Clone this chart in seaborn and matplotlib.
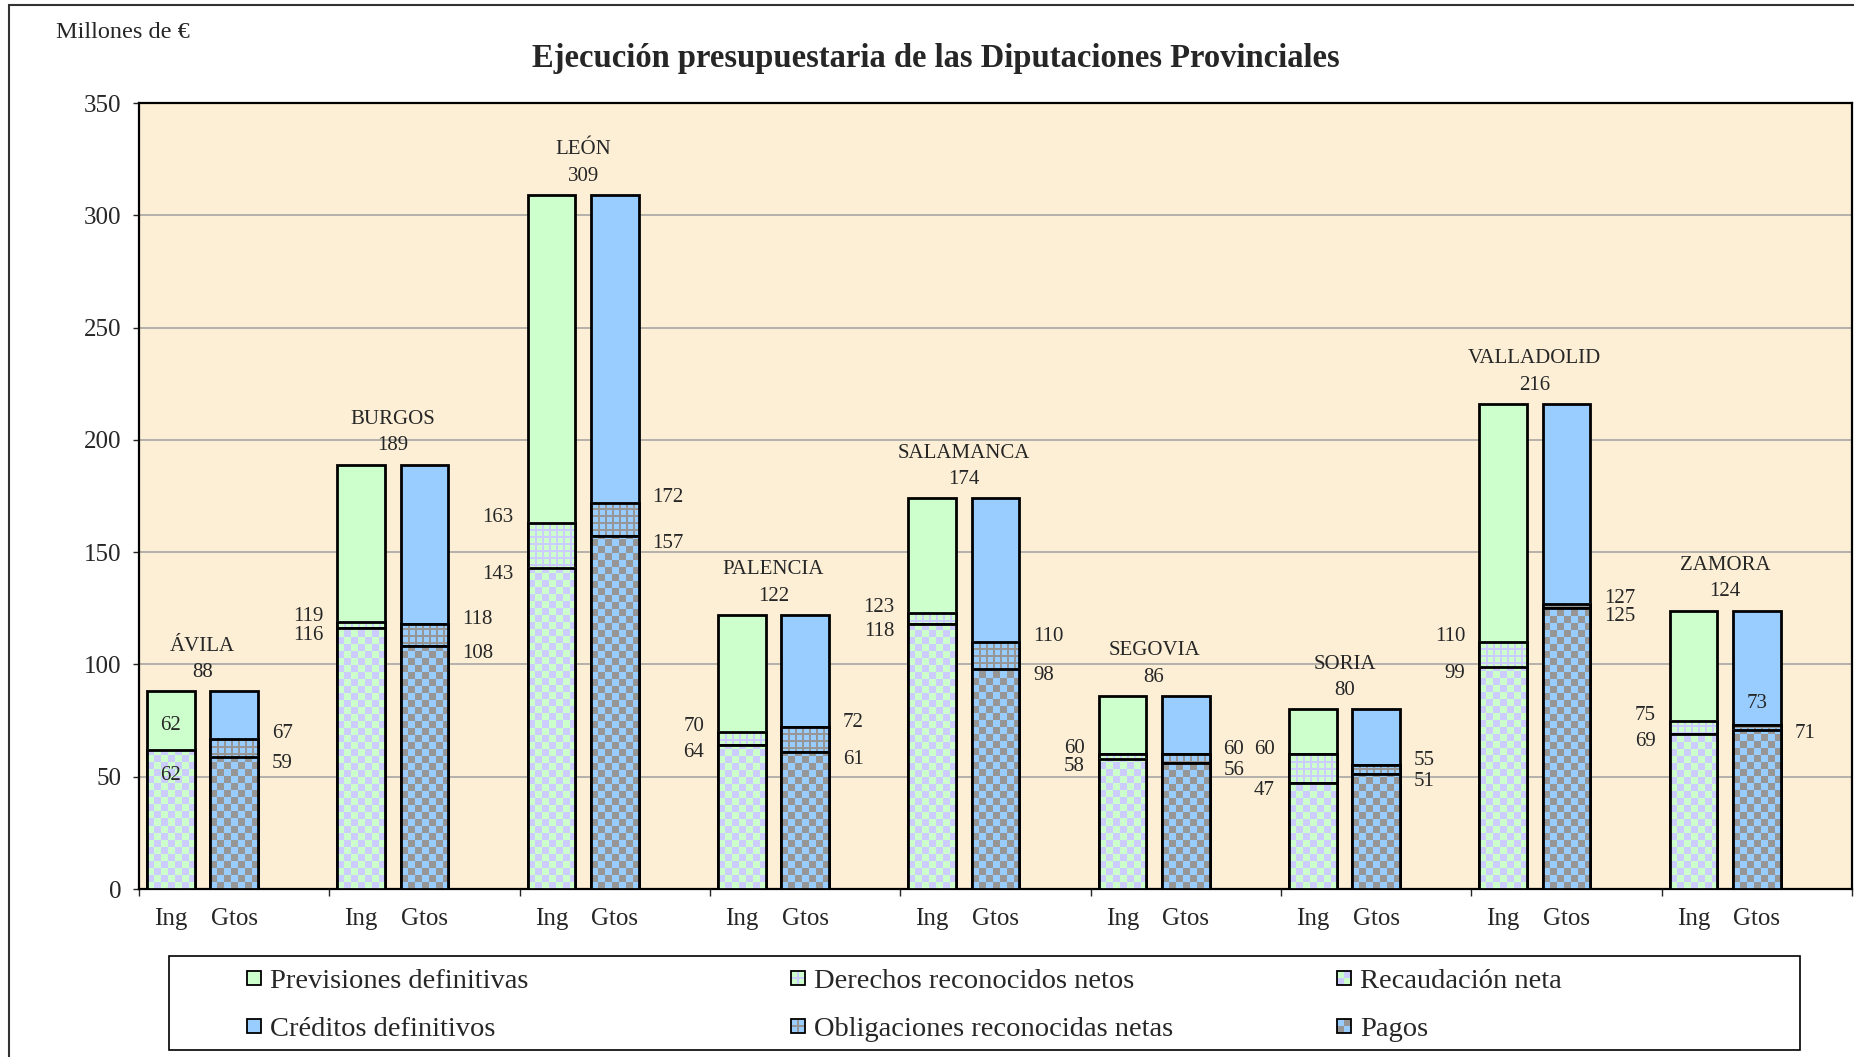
import numpy as np
import pandas as pd
import matplotlib
matplotlib.use("Agg")
import matplotlib.pyplot as plt
from matplotlib.patches import Rectangle, Patch
from matplotlib.legend_handler import HandlerBase
import seaborn as sns

# ---------------- data ----------------
provincias = ["ÁVILA", "BURGOS", "LEÓN", "PALENCIA", "SALAMANCA",
              "SEGOVIA", "SORIA", "VALLADOLID", "ZAMORA"]
previsiones = [88, 189, 309, 122, 174, 86, 80, 216, 124]
derechos = [62, 119, 163, 70, 123, 60, 60, 110, 75]
recaudacion = [62, 116, 143, 64, 118, 58, 47, 99, 69]
creditos = [88, 189, 309, 122, 174, 86, 80, 216, 124]
obligaciones = [67, 118, 172, 72, 110, 60, 55, 127, 73]
pagos = [59, 108, 157, 61, 98, 56, 51, 125, 71]
bar_labels = ["Ing", "Gtos"]
y_ticks = [0, 50, 100, 150, 200, 250, 300, 350]

legend_names = ["Previsiones definitivas", "Derechos reconocidos netos", "Recaudación neta",
                "Créditos definitivos", "Obligaciones reconocidas netas", "Pagos"]

# ---------------- style ----------------
sns.set_style("white")
plt.rcParams["font.family"] = ["Liberation Serif", "DejaVu Serif"]

GREEN = "#CCFFCC"
LAV = "#CCCCFF"
BLUE = "#99CCFF"
GRAY = "#969696"
BG = "#FCEFD6"

W, H, DPI = 1854, 1057, 100
fig = plt.figure(figsize=(W / DPI, H / DPI), dpi=DPI)
ax_l, ax_r, ax_t, ax_b = 139, 1852, 103, 889
ax = fig.add_axes([ax_l / W, 1 - ax_b / H, (ax_r - ax_l) / W, (ax_b - ax_t) / H])
ax.set_facecolor(BG)

# slots: Ing, Gtos, blank per province
slots = []
for p in provincias:
    slots += [f"{p}|Ing", f"{p}|Gtos", f"{p}|_"]

BW = 0.75
layers = [
    ("Ing", previsiones, GREEN, None, None, 2.0),
    ("Ing", derechos, GREEN, LAV, "grid", 3.0),
    ("Ing", recaudacion, GREEN, LAV, "checker", 4.0),
    ("Gtos", creditos, BLUE, None, None, 2.0),
    ("Gtos", obligaciones, BLUE, GRAY, "grid", 3.0),
    ("Gtos", pagos, BLUE, GRAY, "checker", 4.0),
]

textured = []
for kind, vals, c1, c2, tex, z in layers:
    df = pd.DataFrame({"slot": [f"{p}|{kind}" for p in provincias], "valor": vals})
    n0 = len(ax.patches)
    sns.barplot(data=df, x="slot", y="valor", order=slots, color=c1, saturation=1,
                width=BW, errorbar=None, edgecolor="black", linewidth=2, ax=ax)
    new = ax.patches[n0:]
    for pt in new:
        pt.set_zorder(z)
        if tex is not None:
            textured.append((pt, c1, c2, tex, z))

ax.set_xlim(-0.5, len(slots) - 0.5)
ax.set_ylim(0, 350)


def pattern(h, w, c1, c2, tex):
    a = np.array(matplotlib.colors.to_rgb(c1))
    b = np.array(matplotlib.colors.to_rgb(c2))
    yy, xx = np.indices((max(h, 1), max(w, 1)))
    if tex == "checker":
        m = ((xx // 7 + yy // 7) % 2) == 1
    else:
        m = ((xx % 7) < 2) | ((yy % 7) < 2)
    return np.where(m[..., None], b, a)


T = ax.transData
for pt, c1, c2, tex, z in textured:
    x0, y0, w, h = pt.get_x(), pt.get_y(), pt.get_width(), pt.get_height()
    if h <= 0:
        continue
    X0, Y0 = T.transform((x0, y0))
    X1, Y1 = T.transform((x0 + w, y0 + h))
    img = pattern(int(round(Y1 - Y0)), int(round(X1 - X0)), c1, c2, tex)
    ax.imshow(img, extent=(x0, x0 + w, y0, y0 + h), origin="lower",
              interpolation="nearest", aspect="auto", zorder=z + 0.01)
    ax.add_patch(Rectangle((x0, y0), w, h, fill=False, ec="black", lw=2, zorder=z + 0.02))

ax.set_xlim(-0.5, len(slots) - 0.5)
ax.set_ylim(0, 350)

# grid / spines / ticks
ax.set_yticks(y_ticks)
ax.yaxis.grid(True, color="#A0A0A0", lw=1.1)
ax.xaxis.grid(False)
ax.set_axisbelow(True)
for s in ax.spines.values():
    s.set_color("black")
    s.set_linewidth(1.6)
ax.tick_params(axis="y", direction="out", length=4.5, width=1, pad=8, labelsize=18, left=True)
group_edges = [3 * i - 0.5 for i in range(len(provincias) + 1)]
ax.set_xticks(group_edges)
ax.set_xticklabels([])
bar_pos = []
bar_txt = []
for i in range(len(provincias)):
    bar_pos += [3 * i, 3 * i + 1]
    bar_txt += bar_labels
ax.set_xticks(bar_pos, minor=True)
ax.set_xticklabels(bar_txt, minor=True)
ax.tick_params(axis="x", which="major", direction="out", length=5, width=1, bottom=True)
ax.tick_params(axis="x", which="minor", length=0, pad=13.5, labelsize=18, bottom=True)
ax.set_xlabel("")
ax.set_ylabel("")

# ---------------- labels ----------------
ppu = T.transform((0, 1))[1] - T.transform((0, 0))[1]
PT = 72 / DPI
LFS = 15


def pair_offsets(vu, vl):
    up, dn = 5.0, 7.0
    gap = (vu - vl) * ppu + up + dn
    if gap < 18:
        extra = (18 - gap) / 2
        up += extra
        dn += extra
    return up * PT, -dn * PT


for i, p in enumerate(provincias):
    xc = 3 * i + 0.5
    ax.annotate(f"{previsiones[i]}", (xc, previsiones[i]), xytext=(0, 13.5), textcoords="offset points",
                ha="center", va="center", fontsize=LFS, zorder=10)
    ax.annotate(p, (xc, previsiones[i]), xytext=(0, 32.5), textcoords="offset points",
                ha="center", va="center", fontsize=LFS, zorder=10)

    # Ing side
    xi = 3 * i
    if i == 0:
        ax.annotate(f"{derechos[i]}", (xi, derechos[i]), xytext=(0, 24 * PT), textcoords="offset points",
                    ha="center", va="center", fontsize=LFS, zorder=10)
        ax.annotate(f"{recaudacion[i]}", (xi, recaudacion[i]), xytext=(0, -26 * PT), textcoords="offset points",
                    ha="center", va="center", fontsize=LFS, zorder=10)
    else:
        du, dd = pair_offsets(derechos[i], recaudacion[i])
        ax.annotate(f"{derechos[i]}", (xi - BW / 2, derechos[i]), xytext=(-10, du), textcoords="offset points",
                    ha="right", va="center", fontsize=LFS, zorder=10)
        ax.annotate(f"{recaudacion[i]}", (xi - BW / 2, recaudacion[i]), xytext=(-10, dd), textcoords="offset points",
                    ha="right", va="center", fontsize=LFS, zorder=10)

    # Gtos side
    xg = 3 * i + 1
    du, dd = pair_offsets(obligaciones[i], pagos[i])
    if i == len(provincias) - 1:
        ax.annotate(f"{obligaciones[i]}", (xg, obligaciones[i]), xytext=(0, 22 * PT), textcoords="offset points",
                    ha="center", va="center", fontsize=LFS, zorder=10)
        dd = -4 * PT
    else:
        ax.annotate(f"{obligaciones[i]}", (xg + BW / 2, obligaciones[i]), xytext=(10, du), textcoords="offset points",
                    ha="left", va="center", fontsize=LFS, zorder=10)
    ax.annotate(f"{pagos[i]}", (xg + BW / 2, pagos[i]), xytext=(10, dd), textcoords="offset points",
                ha="left", va="center", fontsize=LFS, zorder=10)

# ---------------- titles ----------------
fig.text(936 / W, 1 - 59 / H, "Ejecución presupuestaria de las Diputaciones Provinciales",
         ha="center", va="center", fontsize=23.5, fontweight="bold")
fig.text(56 / W, 1 - 32 / H, "Millones de €", ha="left", va="center", fontsize=17.5)

# outer frame
fig.add_artist(Rectangle((9 / W, -0.1), 1.2, 1 - 5 / H + 0.1, transform=fig.transFigure,
                         fill=False, ec="#333333", lw=1.5))


# ---------------- legend ----------------
class TexHandler(HandlerBase):
    def __init__(self, c1, c2, tex):
        super().__init__()
        self.c1, self.c2, self.tex = c1, c2, tex

    def create_artists(self, legend, orig_handle, xdescent, ydescent, width, height, fontsize, trans):
        s = min(width, height)
        x0 = -xdescent + (width - s) / 2
        y0 = -ydescent + (height - s) / 2
        arts = [Rectangle((x0, y0), s, s, fc=self.c1, ec="none", transform=trans)]
        if self.tex == "checker":
            arts.append(Rectangle((x0, y0), s / 2, s / 2, fc=self.c2, ec="none", transform=trans))
            arts.append(Rectangle((x0 + s / 2, y0 + s / 2), s / 2, s / 2, fc=self.c2, ec="none", transform=trans))
        elif self.tex == "grid":
            arts.append(Rectangle((x0 + s * 0.42, y0), s * 0.16, s, fc=self.c2, ec="none", transform=trans))
            arts.append(Rectangle((x0, y0 + s * 0.42), s, s * 0.16, fc=self.c2, ec="none", transform=trans))
        arts.append(Rectangle((x0, y0), s, s, fill=False, ec="black", lw=1.3, transform=trans))
        return arts


specs = [
    (GREEN, None, None), (GREEN, LAV, "grid"), (GREEN, LAV, "checker"),
    (BLUE, None, None), (BLUE, GRAY, "grid"), (BLUE, GRAY, "checker"),
]
handles = [Patch() for _ in specs]
hmap = {h: TexHandler(*s) for h, s in zip(handles, specs)}

col_x = [247, 791, 1337]
LEG_FS = 20.5
for c in range(3):
    hs = [handles[c], handles[c + 3]]
    ls = [legend_names[c], legend_names[c + 3]]
    fig.legend(hs, ls, handler_map=hmap, loc="upper left",
               bbox_to_anchor=(col_x[c] / W, 1 - 969 / H), bbox_transform=fig.transFigure,
               frameon=False, fontsize=LEG_FS, handlelength=0.5, handleheight=0.5,
               handletextpad=0.3, labelspacing=0.8, borderpad=0, borderaxespad=0)

fig.add_artist(Rectangle((169 / W, 1 - 1050 / H), (1800 - 169) / W, (1050 - 956) / H,
                         transform=fig.transFigure, fill=False, ec="black", lw=1.2))

fig.savefig("out.png", dpi=DPI)
